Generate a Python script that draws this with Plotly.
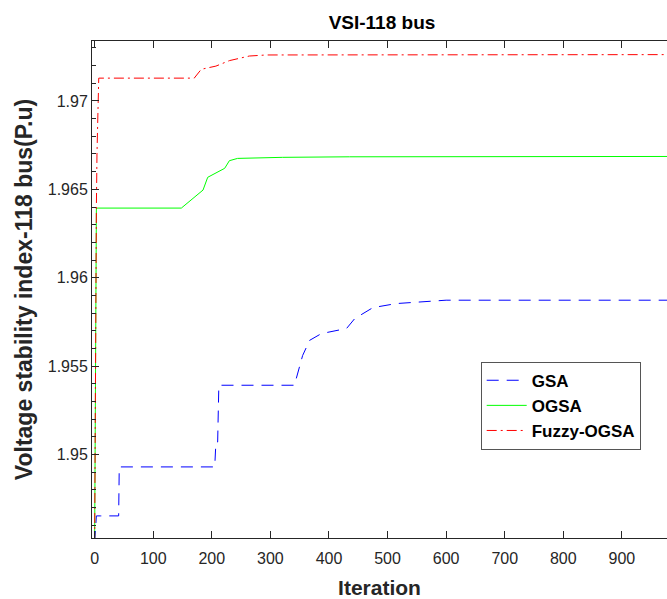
import plotly.graph_objects as go

# ---- data ----
gsa_iter = [0, 2, 3, 10, 41, 42, 205, 207, 210, 212, 341, 355, 367, 387, 430, 444, 475, 515, 555, 600, 1000]
gsa_vsi = [1.9450, 1.9461, 1.94653, 1.94653, 1.94653, 1.94930, 1.94930, 1.95071, 1.95071, 1.95392,
           1.95392, 1.95560, 1.95646, 1.95684, 1.95713, 1.95769, 1.95831, 1.95854, 1.95863, 1.95873, 1.95873]

ogsa_iter = [0, 2, 3, 148, 176, 185, 193, 205, 222, 230, 244, 321, 435, 1000]
ogsa_vsi = [1.9450, 1.9639, 1.96394, 1.96394, 1.96468, 1.96496, 1.96568, 1.96591, 1.96619, 1.96662,
            1.96675, 1.96681, 1.96684, 1.96686]

fuzzy_iter = [0, 1, 2, 3, 4, 5, 6, 7, 170, 182, 207, 230, 264, 293, 1000]
fuzzy_vsi = [1.9450, 1.9560, 1.9610, 1.9640, 1.9670, 1.9690, 1.9710, 1.97129, 1.97129, 1.97179,
             1.97197, 1.97228, 1.97254, 1.97260, 1.97262]

x_ticks = [0, 100, 200, 300, 400, 500, 600, 700, 800, 900]
y_ticks = [1.95, 1.955, 1.96, 1.965, 1.97]
y_tick_text = ["1.95", "1.955", "1.96", "1.965", "1.97"]

font_family = "Liberation Sans, Arial, sans-serif"
tick_color = "#262626"

fig = go.Figure()
fig.add_trace(go.Scatter(x=gsa_iter, y=gsa_vsi, mode="lines", name="<b>GSA</b>",
                         line=dict(color="#0000ff", width=1, dash="12px,8px")))
fig.add_trace(go.Scatter(x=ogsa_iter, y=ogsa_vsi, mode="lines", name="<b>OGSA</b>",
                         line=dict(color="#00ff00", width=1)))
fig.add_trace(go.Scatter(x=fuzzy_iter, y=fuzzy_vsi, mode="lines", name="<b>Fuzzy-OGSA</b>",
                         line=dict(color="#ff0000", width=1, dash="10px,4px,2px,4px")))

fig.update_layout(
    width=667, height=599,
    margin=dict(l=92, r=0, t=41, b=61, autoexpand=False),
    paper_bgcolor="white", plot_bgcolor="white",
    font=dict(family=font_family, color=tick_color, size=16),
    title=dict(text="<b>VSI-118 bus</b>", x=0.5727, xanchor="center", y=0.9633, yanchor="middle",
               font=dict(size=19, color="black", family=font_family)),
    showlegend=True,
    legend=dict(x=0.676, y=0.3547, xanchor="left", yanchor="top",
                bordercolor="#555555", borderwidth=1, bgcolor="white",
                font=dict(size=17, color="black", family=font_family),
                tracegroupgap=0, itemwidth=40),
)

fig.update_xaxes(
    range=[-4.5, 977], tickvals=x_ticks, ticktext=[str(v) for v in x_ticks],
    showgrid=False, zeroline=False, showline=True, linecolor="#262626", linewidth=1,
    mirror="ticks", ticks="inside", ticklen=7, tickcolor="#262626",
    tickfont=dict(size=16, color=tick_color), ticklabelstandoff=6,
    title=dict(text="<b>Iteration</b>", font=dict(size=21, color="#262626"), standoff=14),
)
fig.update_yaxes(
    range=[1.94528, 1.97339], tickvals=y_ticks, ticktext=y_tick_text,
    showgrid=False, zeroline=False, showline=True, linecolor="#262626", linewidth=1,
    mirror=False, ticks="inside", ticklen=7, tickcolor="#262626",
    tickfont=dict(size=16, color=tick_color),
    minor=dict(dtick=0.001, tick0=1.95, ticks="inside", ticklen=4, tickcolor="#262626", showgrid=False),
    title=dict(text="<b>Voltage stability index-118 bus(P.u)</b>", font=dict(size=23, color="#262626"), standoff=8),
)

fig.write_html("out.html", config={"displayModeBar": False},
               post_script="document.body.style.margin='0';document.body.style.overflow='hidden';")
